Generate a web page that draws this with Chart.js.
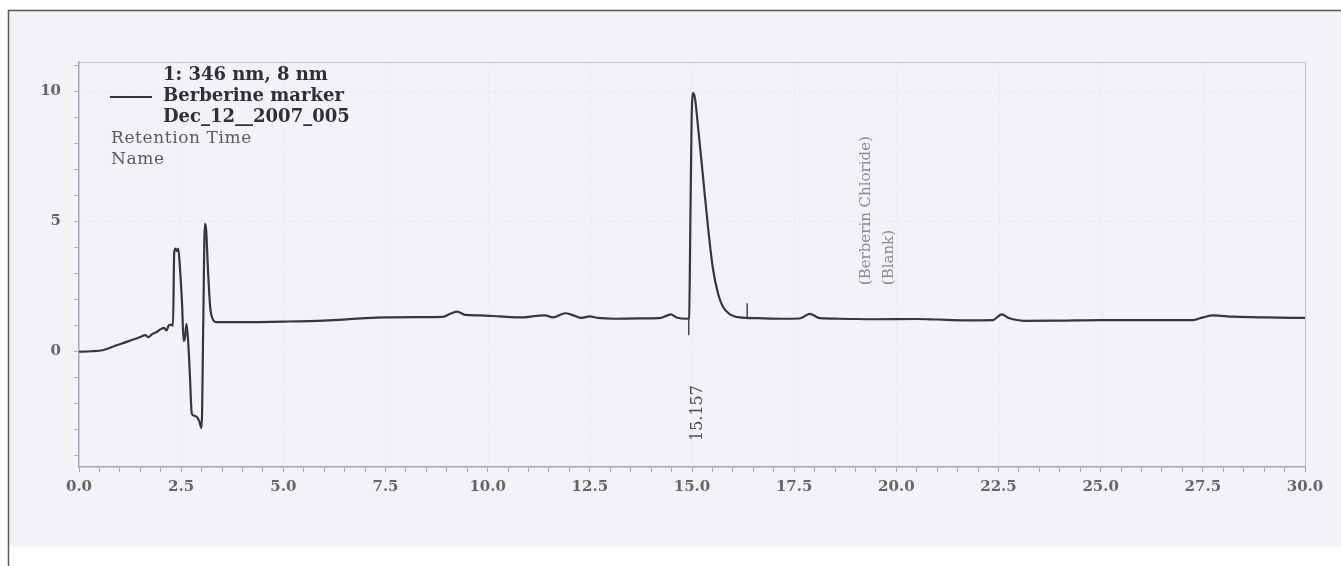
<!DOCTYPE html>
<html>
<head>
<meta charset="utf-8">
<script src="https://cdn.jsdelivr.net/npm/chart.js@4/dist/chart.umd.min.js"></script>
<style>
html,body{margin:0;padding:0;background:#fff;}
#wrap{width:1341px;height:566px;position:relative;}
</style>
</head>
<body>
<div id="wrap"><canvas id="c" width="1341" height="566"></canvas></div>
<script>
// ---- data ----
const times = [0.00,0.30,0.60,0.90,1.20,1.50,1.62,1.70,1.78,1.90,2.00,2.08,2.14,2.20,2.27,2.30,2.33,2.36,2.40,2.43,2.47,2.52,2.56,2.59,2.63,2.67,2.71,2.76,2.82,2.88,2.94,3.00,3.04,3.08,3.11,3.16,3.21,3.27,3.35,4.00,5.00,6.00,7.00,7.50,8.30,8.90,9.10,9.25,9.45,9.80,10.30,10.80,11.20,11.40,11.60,11.90,12.10,12.30,12.50,12.70,13.10,13.70,14.20,14.40,14.48,14.62,14.88,14.93,14.96,14.99,15.02,15.07,15.15,15.27,15.39,15.51,15.64,15.76,15.93,16.17,16.60,17.20,17.64,17.88,18.13,18.60,19.50,20.50,21.00,21.70,22.37,22.50,22.58,22.75,22.95,23.10,24.00,25.00,26.00,27.26,27.50,27.75,28.24,29.07,30.00];
const signal = [-0.02,0.00,0.05,0.22,0.38,0.55,0.62,0.54,0.65,0.74,0.85,0.90,0.80,1.00,1.02,0.98,3.80,3.95,3.85,3.95,3.20,1.90,0.40,0.50,1.05,0.40,-0.80,-2.40,-2.48,-2.52,-2.68,-2.95,1.00,4.90,4.70,3.00,1.70,1.25,1.12,1.12,1.14,1.18,1.27,1.30,1.31,1.32,1.45,1.52,1.40,1.38,1.34,1.30,1.36,1.38,1.30,1.46,1.38,1.28,1.34,1.28,1.25,1.26,1.27,1.38,1.42,1.30,1.25,1.27,5.00,8.80,9.92,9.75,8.60,6.70,4.80,3.20,2.20,1.70,1.42,1.30,1.27,1.25,1.26,1.44,1.27,1.25,1.23,1.24,1.22,1.19,1.20,1.35,1.42,1.28,1.20,1.17,1.18,1.20,1.20,1.20,1.30,1.38,1.33,1.30,1.28];
const xLabelTicks = [0,2.5,5,7.5,10,12.5,15,17.5,20,22.5,25,27.5,30];
const yLabelTicks = [0,5,10];
const legendLines = ["1: 346 nm, 8 nm","Berberine marker","Dec_12__2007_005"];
const legendExtra = ["Retention Time","Name"];
const peakLabel = {time:15.157, text:"15.157", top:-1.3};
const peakStart = {time:14.92, from:1.27, to:0.62};
const peakEnd = {time:16.35, from:1.27, to:1.85};
const nameLabels = [{time:19.26, text:"(Berberin Chloride)", bottom:2.54},{time:19.82, text:"(Blank)", bottom:2.54}];

const points = times.map((t,i)=>({x:t,y:signal[i]}));
const SERIF = "'DejaVu Serif', 'Liberation Serif', serif";

const decor = {
  id:'decor',
  beforeDraw(chart){
    const ctx = chart.ctx;
    ctx.save();
    ctx.fillStyle = '#ffffff';
    ctx.fillRect(0,0,chart.width,chart.height);
    ctx.fillStyle = '#f2f3f6';
    ctx.fillRect(9,11,chart.width-9,536);
    // faint grid
    const a = chart.chartArea, xs = chart.scales.x, ys = chart.scales.y;
    ctx.strokeStyle = 'rgba(120,120,130,0.10)';
    ctx.lineWidth = 1;
    ctx.setLineDash([2,3]);
    xLabelTicks.forEach(t=>{ if(t>0 && t<30){const px=Math.round(xs.getPixelForValue(t))+0.5; ctx.beginPath(); ctx.moveTo(px,a.top); ctx.lineTo(px,a.bottom); ctx.stroke();}});
    [5,10].forEach(v=>{const py=Math.round(ys.getPixelForValue(v))+0.5; ctx.beginPath(); ctx.moveTo(a.left,py); ctx.lineTo(a.right,py); ctx.stroke();});
    ctx.setLineDash([]);
    // outer frame
    ctx.strokeStyle = '#5a5a5a';
    ctx.lineWidth = 1.5;
    ctx.beginPath();
    ctx.moveTo(8.5,chart.height); ctx.lineTo(8.5,10.5); ctx.lineTo(chart.width,10.5);
    ctx.stroke();
    // plot frame top/right
    ctx.strokeStyle = '#c9c4d2';
    ctx.lineWidth = 1.2;
    ctx.beginPath();
    ctx.moveTo(a.left,a.top+0.5); ctx.lineTo(a.right+0.5,a.top+0.5); ctx.lineTo(a.right+0.5,a.bottom);
    ctx.stroke();
    ctx.restore();
  },
  afterDraw(chart){
    const ctx = chart.ctx, xs = chart.scales.x, ys = chart.scales.y;
    ctx.save();
    // legend
    ctx.strokeStyle = '#333';
    ctx.lineWidth = 2;
    ctx.beginPath(); ctx.moveTo(110,97); ctx.lineTo(152,97); ctx.stroke();
    ctx.fillStyle = '#2f2f35';
    ctx.font = "bold 18px " + SERIF;
    ctx.textBaseline = 'middle';
    ctx.textAlign = 'left';
    legendLines.forEach((s,i)=>ctx.fillText(s,163,75+i*21));
    ctx.fillStyle = '#5a5a60';
    ctx.font = "17px " + SERIF;
    if ('letterSpacing' in ctx) ctx.letterSpacing = '0.6px';
    legendExtra.forEach((s,i)=>ctx.fillText(s,111,139+i*21));
    if ('letterSpacing' in ctx) ctx.letterSpacing = '0px';
    // peak markers
    ctx.strokeStyle = '#444';
    ctx.lineWidth = 1.5;
    [peakStart,peakEnd].forEach(m=>{
      const px = xs.getPixelForValue(m.time);
      ctx.beginPath(); ctx.moveTo(px,ys.getPixelForValue(m.from)); ctx.lineTo(px,ys.getPixelForValue(m.to)); ctx.stroke();
    });
    // retention time label
    ctx.save();
    ctx.translate(xs.getPixelForValue(peakLabel.time)-1, ys.getPixelForValue(peakLabel.top));
    ctx.rotate(-Math.PI/2);
    ctx.fillStyle = '#4a4a50';
    ctx.font = "16px " + SERIF;
    ctx.textAlign = 'right';
    ctx.textBaseline = 'middle';
    ctx.fillText(peakLabel.text,0,0);
    ctx.restore();
    // names
    nameLabels.forEach(n=>{
      ctx.save();
      ctx.translate(xs.getPixelForValue(n.time), ys.getPixelForValue(n.bottom));
      ctx.rotate(-Math.PI/2);
      ctx.fillStyle = '#8a8a90';
      ctx.font = "15px " + SERIF;
      ctx.textAlign = 'left';
      ctx.textBaseline = 'middle';
      ctx.fillText(n.text,0,0);
      ctx.restore();
    });
    ctx.restore();
  }
};

new Chart(document.getElementById('c'), {
  type:'line',
  data:{datasets:[{
    data:points,
    borderColor:'#38363c',
    borderWidth:2.2,
    pointRadius:0,
    cubicInterpolationMode:'monotone',
    fill:false
  }]},
  options:{
    responsive:false,
    animation:false,
    devicePixelRatio:1,
    layout:{padding:{top:62,right:36,left:0,bottom:0}},
    plugins:{legend:{display:false},tooltip:{enabled:false}},
    scales:{
      x:{
        type:'linear', min:0, max:30,
        afterFit(s){s.height=99;},
        border:{color:'#a8a3b8',width:1.5},
        grid:{drawOnChartArea:false,tickLength:5,color:'#a8a3b8'},
        ticks:{
          stepSize:0.5, autoSkip:false, maxRotation:0, includeBounds:false,
          padding:6, color:'#666',
          font:{family:SERIF,size:15,weight:'bold'},
          callback(v){ return xLabelTicks.some(t=>Math.abs(t-v)<1e-6) ? Number(v).toFixed(1) : ''; }
        }
      },
      y:{
        type:'linear', min:-4.45, max:11.12,
        afterFit(s){s.width=79;},
        border:{color:'#a8a3b8',width:1.5},
        grid:{drawOnChartArea:false,tickLength:5,color:'#b0acc0'},
        ticks:{
          stepSize:1, autoSkip:false, includeBounds:false,
          padding:13, color:'#666',
          font:{family:SERIF,size:15,weight:'bold'},
          callback(v){ return yLabelTicks.includes(v) ? String(v) : ''; }
        }
      }
    }
  },
  plugins:[decor]
});
</script>
</body>
</html>
